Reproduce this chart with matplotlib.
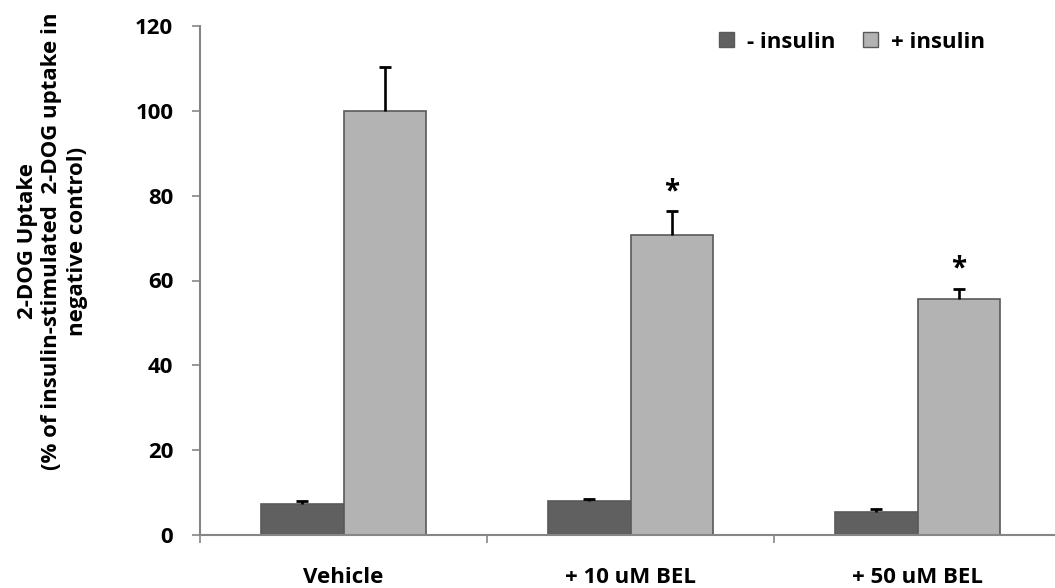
import numpy as np
import matplotlib.pyplot as plt
from matplotlib.patches import Patch

plt.rcParams['font.family'] = ['Open Sans', 'DejaVu Sans']
plt.rcParams['font.weight'] = 'bold'

groups = ['Vehicle', '+ 10 uM BEL', '+ 50 uM BEL']
minus_ins = [7.2, 8.0, 5.4]
minus_err = [0.8, 0.6, 0.8]
plus_ins = [100.0, 70.7, 55.6]
plus_err = [10.3, 5.6, 2.5]
stars = ['', '*', '*']

dark = '#606060'
light = '#b3b3b3'
edge = '#595959'
axis_grey = '#868686'

fig = plt.figure(figsize=(10.55, 5.88), dpi=100)
ax = fig.add_axes([200 / 1055, 53 / 588, 855 / 1055, 509 / 588])

x = np.arange(len(groups))
w = 0.287
ax.bar(x - w / 2, minus_ins, w, color=dark, edgecolor=edge, linewidth=1.2, zorder=2)
ax.bar(x + w / 2, plus_ins, w, color=light, edgecolor=edge, linewidth=1.2, zorder=2)

# upper error bars only, with a cap on top
for xs, ys, es in [(x - w / 2, minus_ins, minus_err), (x + w / 2, plus_ins, plus_err)]:
    tops = np.array(ys) + np.array(es)
    ax.vlines(xs, ys, tops, colors='black', linewidth=1.9, zorder=3)
    ax.plot(xs, tops, ls='none', marker='_', markersize=9, markeredgewidth=2.0,
            color='black', zorder=3)

for i, s in enumerate(stars):
    if s:
        ax.text(x[i] + w / 2, plus_ins[i] + plus_err[i] + 4.6, s, ha='center',
                va='center', fontsize=20, fontweight='bold')

ax.set_xlim(-0.5, -0.5 + 855 / 287)
ax.set_ylim(0, 120)
ax.set_yticks(np.arange(0, 121, 20))
ax.set_xticks([-0.5, 0.5, 1.5])
ax.set_xticklabels([])
ax.tick_params(axis='both', colors=axis_grey, length=5.8, width=1.2, direction='out',
               labelsize=16, labelcolor='black')
ax.tick_params(axis='y', pad=13.5)
for lbl in ax.get_yticklabels():
    lbl.set_fontweight('bold')

for i, g in enumerate(groups):
    ax.text(x[i], -10.0, g, ha='center', va='center', fontsize=16, fontweight='bold')

for side in ['top', 'right']:
    ax.spines[side].set_visible(False)
for side in ['left', 'bottom']:
    ax.spines[side].set_color(axis_grey)
    ax.spines[side].set_linewidth(1.5)

fig.text(52 / 1055, 1 - 241 / 588,
         '2-DOG Uptake\n(% of insulin-stimulated  2-DOG uptake in\nnegative control)',
         rotation=90, ha='center', va='center', multialignment='center',
         fontsize=16, fontweight='bold', linespacing=1.25)

handles = [Patch(facecolor=dark, edgecolor=edge, label='- insulin'),
           Patch(facecolor=light, edgecolor=edge, label='+ insulin')]
leg = fig.legend(handles=handles, loc='center', bbox_to_anchor=(852 / 1055, 1 - 42 / 588),
                 ncol=2, frameon=False, fontsize=16, handlelength=0.68, handleheight=0.68,
                 handletextpad=0.6, columnspacing=1.2)
for t in leg.get_texts():
    t.set_fontweight('bold')

fig.savefig('out.png', dpi=100)
